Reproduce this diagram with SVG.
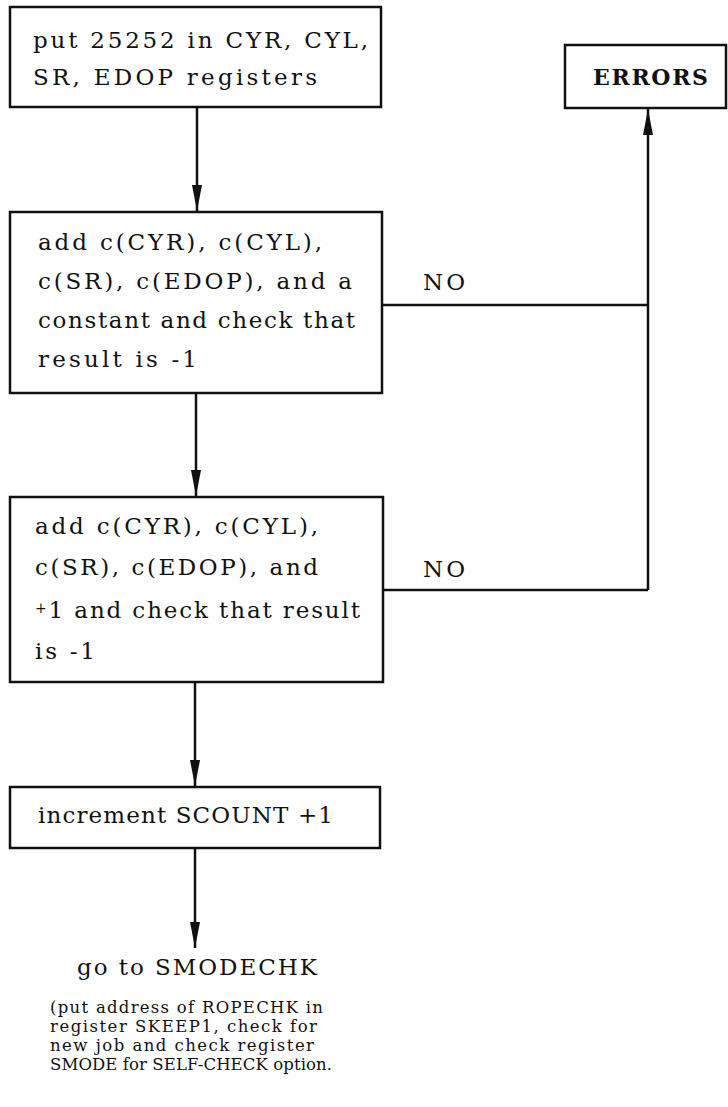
<svg xmlns="http://www.w3.org/2000/svg" width="728" height="1107" viewBox="0 0 728 1107">
<style>
.box{fill:#fff;stroke:#111;stroke-width:2.5}
.t{font-family:"DejaVu Serif","Liberation Serif",serif;font-size:23px;fill:#111}
.s{font-family:"DejaVu Serif","Liberation Serif",serif;font-size:16.5px;fill:#111}
.b{font-family:"DejaVu Serif","Liberation Serif",serif;font-size:22px;font-weight:bold;fill:#111}
.ln{stroke:#111;stroke-width:2.5;fill:none}
</style>
<defs>
<marker id="ah" viewBox="0 0 26 12" refX="26" refY="6" markerWidth="26" markerHeight="12" markerUnits="userSpaceOnUse" orient="auto">
<path d="M0,1 L26,6 L0,11 Z" fill="#111"/>
</marker>
</defs>
<g id="connectors">
<line class="ln" x1="197" y1="107" x2="197" y2="211" marker-end="url(#ah)"/>
<line class="ln" x1="196" y1="393" x2="196" y2="496" marker-end="url(#ah)"/>
<line class="ln" x1="195" y1="682" x2="195" y2="786" marker-end="url(#ah)"/>
<line class="ln" x1="195" y1="848" x2="195" y2="948" marker-end="url(#ah)"/>
<line class="ln" x1="382" y1="305" x2="648" y2="305"/>
<line class="ln" x1="383" y1="590" x2="648" y2="590"/>
<line class="ln" x1="648" y1="590" x2="648" y2="109" marker-end="url(#ah)"/>
<text class="t" x="423" y="290" textLength="42" lengthAdjust="spacing">NO</text>
<text class="t" x="423" y="577" textLength="42" lengthAdjust="spacing">NO</text>
</g>
<g id="n1">
<rect class="box" x="10" y="7" width="371" height="100"/>
<text class="t" x="33" y="48" textLength="335" lengthAdjust="spacing">put 25252 in CYR, CYL,</text>
<text class="t" x="33" y="85" textLength="284" lengthAdjust="spacing">SR, EDOP registers</text>
</g>
<g id="errors">
<rect class="box" x="565" y="45" width="161" height="63"/>
<text class="b" x="593" y="85" textLength="115" lengthAdjust="spacing">ERRORS</text>
</g>
<g id="n2">
<rect class="box" x="10" y="212" width="372" height="181"/>
<text class="t" x="38" y="250" textLength="284" lengthAdjust="spacing">add c(CYR), c(CYL),</text>
<text class="t" x="38" y="289" textLength="314" lengthAdjust="spacing">c(SR), c(EDOP), and a</text>
<text class="t" x="38" y="328" textLength="317" lengthAdjust="spacing">constant and check that</text>
<text class="t" x="38" y="367" textLength="159" lengthAdjust="spacing">result is -1</text>
</g>
<g id="n3">
<rect class="box" x="10" y="497" width="373" height="185"/>
<text class="t" x="35" y="534" textLength="283" lengthAdjust="spacing">add c(CYR), c(CYL),</text>
<text class="t" x="35" y="575" textLength="283" lengthAdjust="spacing">c(SR), c(EDOP), and</text>
<text class="t" x="35" y="618" textLength="325" lengthAdjust="spacing"><tspan font-size="14" dy="-5">+</tspan><tspan dy="5">1 and check that result</tspan></text>
<text class="t" x="35" y="659" textLength="60" lengthAdjust="spacing">is -1</text>
</g>
<g id="n4">
<rect class="box" x="10" y="787" width="370" height="61"/>
<text class="t" x="38" y="823" textLength="295" lengthAdjust="spacing">increment SCOUNT +1</text>
</g>
<g id="exit">
<text class="t" x="77" y="975" textLength="240" lengthAdjust="spacing">go to SMODECHK</text>
<text class="s" x="50" y="1013" textLength="273" lengthAdjust="spacing">(put address of ROPECHK in</text>
<text class="s" x="50" y="1032" textLength="267" lengthAdjust="spacing">register SKEEP1, check for</text>
<text class="s" x="50" y="1051" textLength="264" lengthAdjust="spacing">new job and check register</text>
<text class="s" x="50" y="1070" textLength="282" lengthAdjust="spacing">SMODE for SELF-CHECK option.</text>
</g>
</svg>
